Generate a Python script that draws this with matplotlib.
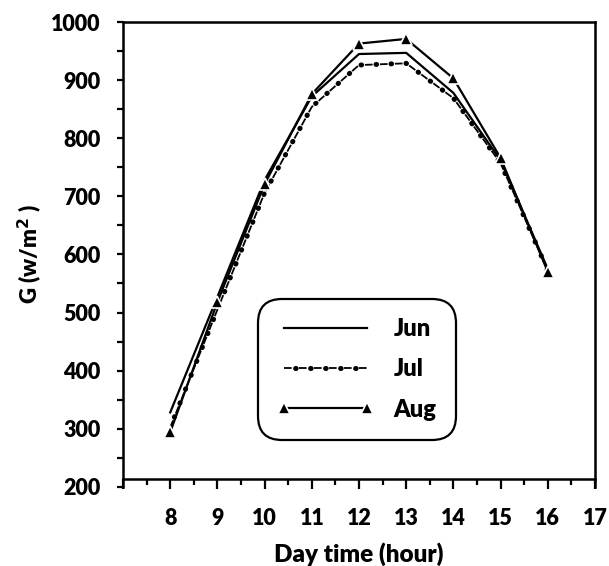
import matplotlib
matplotlib.use("Agg")
from matplotlib import pyplot as plt
from matplotlib.legend_handler import HandlerTuple
from matplotlib.ticker import MultipleLocator

hours = [8, 9, 10, 11, 12, 13, 14, 15, 16]
jun = [328, 527, 728, 872, 945, 947, 878, 762, 575]
jul = [302, 505, 706, 854, 926, 929, 869, 757, 572]
aug = [294, 518, 721, 876, 963, 971, 903, 766, 570]
xtick_vals = [7, 8, 9, 10, 11, 12, 13, 14, 15, 16, 17]
xtick_labels = ["", "8", "9", "10", "11", "12", "13", "14", "15", "16", "17"]

plt.rcParams['font.family'] = ['Lato', 'DejaVu Sans']
plt.rcParams['font.weight'] = 'bold'
plt.rcParams['lines.scale_dashes'] = False

fig = plt.figure(figsize=(6.09, 5.66), dpi=100)
ax = fig.add_axes([0.202, 0.140, 0.775, 0.821])

# Jun - plain solid
l_jun, = ax.plot(hours, jun, color='black', lw=1.6, label='Jun')

# Jul - dashes with round dots in between
l_jul1, = ax.plot(hours, jul, color='black', lw=1.3, ls=(0, (5.5, 5.3)))
l_jul2, = ax.plot(hours, jul, color='black', lw=3.6, ls=(2.8, (0.4, 10.4)),
                  dash_capstyle='round')

# Aug - solid with triangles
l_aug, = ax.plot(hours, aug, color='black', lw=1.6, marker='^', markersize=8.5,
                 markerfacecolor='black', markeredgecolor='white', markeredgewidth=1.2)

ax.set_xlim(7, 17)
ax.set_ylim(200, 1000)
ax.spines['bottom'].set_position(('data', 213))
for s in ax.spines.values():
    s.set_linewidth(1.8)

ax.set_xticks(xtick_vals)
ax.set_xticklabels(xtick_labels)
ax.xaxis.set_minor_locator(MultipleLocator(0.5))
ax.yaxis.set_major_locator(MultipleLocator(100))
ax.yaxis.set_minor_locator(MultipleLocator(50))
ax.tick_params(axis='x', which='major', direction='out', length=7, width=1.6,
               labelsize=15.5, pad=14)
ax.tick_params(axis='x', which='minor', direction='out', length=4, width=1.6)
ax.tick_params(axis='y', which='both', direction='out', length=4, width=1.6,
               labelsize=15.5, pad=12)
for lab in ax.get_xticklabels() + ax.get_yticklabels():
    lab.set_fontweight('heavy')

ax.set_xlabel('Day time (hour)', fontsize=17.5, fontweight='heavy', labelpad=9)
ax.set_ylabel('G (w/m$^\\mathbf{2}$ )', fontsize=16, fontweight='heavy', labelpad=5)

leg = ax.legend([l_jun, (l_jul1, l_jul2), l_aug], ['Jun', 'Jul', 'Aug'],
                handler_map={tuple: HandlerTuple(ndivide=1, pad=0)},
                loc='upper left', bbox_to_anchor=(0.286, 0.404), numpoints=2,
                prop={'size': 17, 'weight': 'heavy'}, handlelength=4.1,
                handletextpad=0.85, labelspacing=0.78, borderpad=0.8,
                fancybox=True, framealpha=1, borderaxespad=0)
frame = leg.get_frame()
frame.set_edgecolor('black')
frame.set_linewidth(1.6)
frame.set_boxstyle('round,pad=0,rounding_size=1.0')

fig.savefig('out.png', dpi=100)
